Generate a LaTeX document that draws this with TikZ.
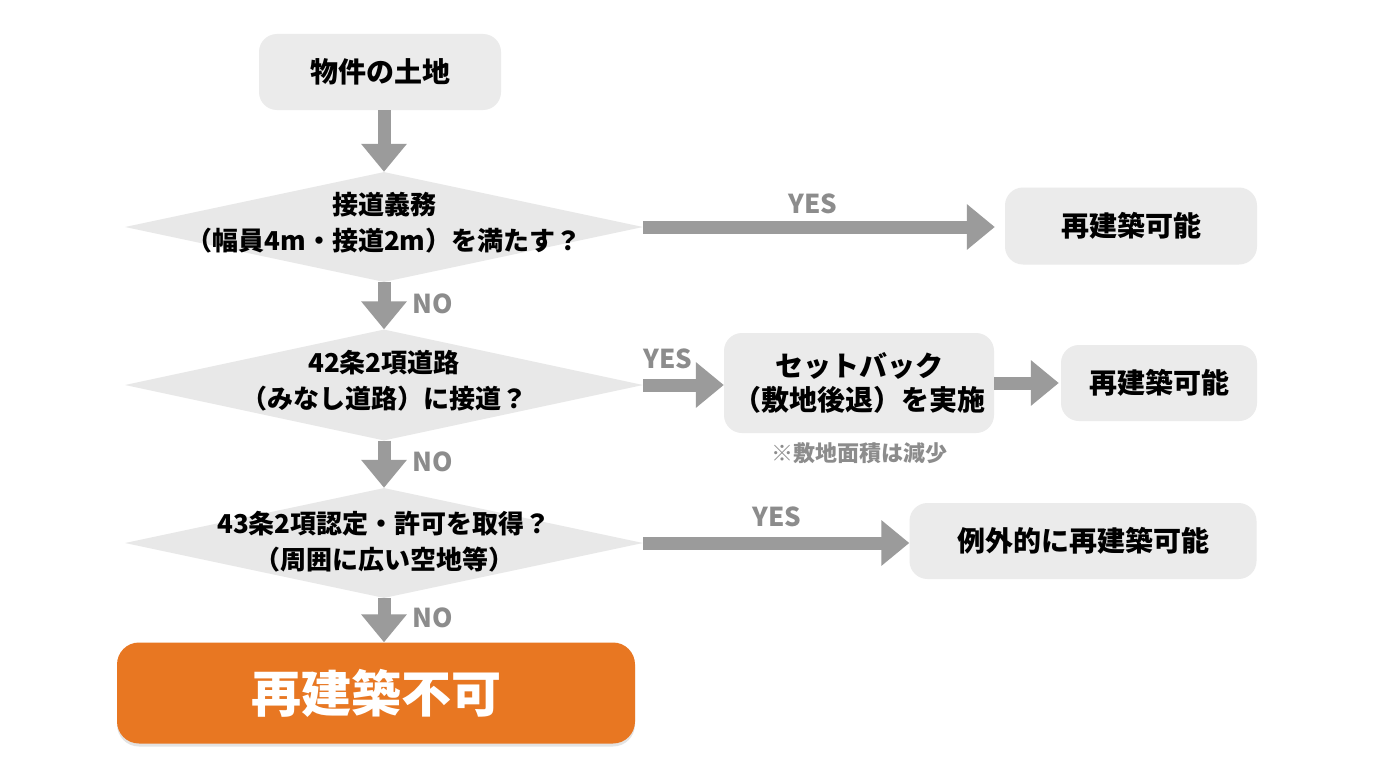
\documentclass[tikz,border=0pt]{standalone}
\usepackage{fontspec}
\setmainfont{Noto Sans CJK JP}
\usetikzlibrary{shapes.geometric,arrows.meta,shadows}
\definecolor{boxfill}{HTML}{EBEBEB}
\definecolor{diafill}{HTML}{E8E8E8}
\definecolor{arrgray}{HTML}{9B9B9B}
\definecolor{lblgray}{HTML}{8C8C8C}
\definecolor{orangefill}{HTML}{E87722}
\begin{document}
\begin{tikzpicture}[x=1pt,y=-1pt,
  boxnode/.style={rectangle, rounded corners=18pt, fill=boxfill, inner sep=0pt,
    font=\fontsize{28}{34}\selectfont\bfseries, align=center},
  dianode/.style={diamond, fill=diafill, inner sep=0pt, minimum width=518pt, minimum height=110pt},
  diatext/.style={font=\fontsize{26}{36}\selectfont\bfseries, align=center, inner sep=0pt},
  bigarr/.style={draw=arrgray, line width=13pt, -{Triangle[length=28pt,width=44pt,fill=arrgray]}},
  lbl/.style={text=lblgray, font=\fontsize{26}{30}\selectfont\bfseries, inner sep=0pt}
]
\useasboundingbox (0,0) rectangle (1376,768);
\fill[white] (0,0) rectangle (1376,768);

% nodes
\node[boxnode, minimum width=242pt, minimum height=76pt] (top) at (380,72) {物件の土地};

\node[dianode] (d1) at (384,227) {};
\node[diatext] (d1t) at (384,223) {接道義務\\（幅員4m・接道2m）を満たす？};

\node[boxnode, minimum width=252pt, minimum height=77pt] (r1) at (1131,226) {再建築可能};

\node[dianode, minimum height=111pt] (d2) at (384,385) {};
\node[diatext] (d2t) at (384,381) {42条2項道路\\（みなし道路）に接道？};

\node[boxnode, minimum width=270pt, minimum height=100pt] (sb) at (859,383) {セットバック\\（敷地後退）を実施};
\node[boxnode, minimum width=196pt, minimum height=76pt] (r2) at (1159,383) {再建築可能};
\node[text=lblgray, font=\fontsize{22}{24}\selectfont\bfseries, inner sep=0pt] (note) at (859,453) {※敷地面積は減少};

\node[dianode] (d3) at (384,543) {};
\node[diatext] (d3t) at (384,542) {43条2項認定・許可を取得？\\（周囲に広い空地等）};

\node[boxnode, minimum width=347pt, minimum height=76pt] (r3) at (1083,541) {例外的に再建築可能};

\node[rectangle, rounded corners=22pt, fill=orangefill, minimum width=518pt, minimum height=101pt,
  inner sep=0pt, text=white, font=\fontsize{50}{56}\selectfont\bfseries,
  drop shadow={opacity=0.22, shadow xshift=0pt, shadow yshift=-3pt}] (ng) at (376,693) {再建築不可};

% arrows
\draw[bigarr] (d1.north |- top.south) -- (d1.north);
\draw[bigarr] (d1.south) -- (d2.north);
\draw[bigarr] (d2.south) -- (d3.north);
\draw[bigarr] (d3.south) -- (d3.south |- ng.north);

\draw[bigarr, shorten >=10pt] (d1.east) -- (d1.east -| r1.west);
\draw[bigarr] (d2.east) -- (d2.east -| sb.west);
\draw[bigarr, shorten >=2pt] (sb.east) -- (sb.east -| r2.west);
\draw[bigarr] (d3.east) -- (d3.east -| r3.west);

% labels
\node[lbl] (yes1) at (813,204) {YES};
\node[lbl] (yes2) at (668,359) {YES};
\node[lbl] (yes3) at (777,517) {YES};
\node[lbl] (no1) at (433,304) {NO};
\node[lbl] (no2) at (433,462) {NO};
\node[lbl] (no3) at (433,618) {NO};
\end{tikzpicture}
\end{document}
